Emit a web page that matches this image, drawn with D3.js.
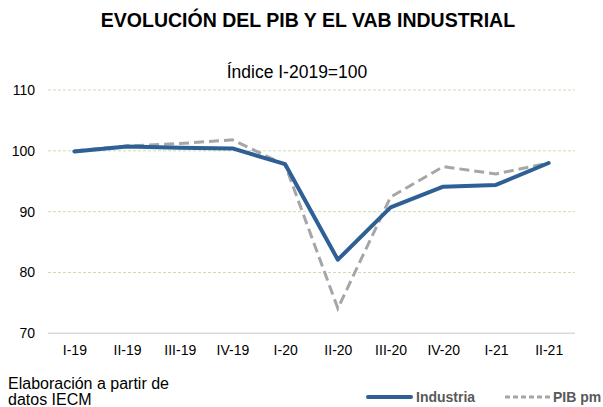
<!DOCTYPE html>
<html lang="es">
<head>
<meta charset="UTF-8">
<title>Evolución del PIB y el VAB industrial</title>
<script src="https://cdn.jsdelivr.net/npm/d3@7"></script>
<style>
  body { margin: 0; background: #fff; }
  svg { display: block; font-family: "Liberation Sans", Arial, sans-serif; }
</style>
</head>
<body>
<div id="chart"></div>
<script>
const quarters = ["I-19", "II-19", "III-19", "IV-19", "I-20", "II-20", "III-20", "IV-20", "I-21", "II-21"];
const industria = [99.9, 100.7, 100.5, 100.4, 97.8, 82.1, 90.7, 94.1, 94.4, 98.0];
const pibPm = [100.0, 100.8, 101.2, 101.8, 97.7, 74.1, 92.4, 97.4, 96.2, 98.0];
const yTicks = [70, 80, 90, 100, 110];

const w = 603;
const h = 407;

const svg = d3.select("#chart")
  .append("svg")
  .attr("width", w)
  .attr("height", h);

const xScale = d3.scalePoint()
  .domain(quarters)
  .range([48, 575])
  .padding(0.5);

const yScale = d3.scaleLinear()
  .domain([70, 110])
  .range([333.3, 90]);

// title + subtitle
svg.append("text")
  .attr("x", 308)
  .attr("y", 27)
  .attr("text-anchor", "middle")
  .attr("font-size", 19.5)
  .attr("font-weight", "bold")
  .text("EVOLUCIÓN DEL PIB Y EL VAB INDUSTRIAL");

svg.append("text")
  .attr("x", 297)
  .attr("y", 78)
  .attr("text-anchor", "middle")
  .attr("font-size", 17.5)
  .text("Índice I-2019=100");

// gridlines
svg.append("g")
  .selectAll("line")
  .data(yTicks.filter(d => d > 70))
  .join("line")
  .attr("x1", 48)
  .attr("x2", 575)
  .attr("y1", d => yScale(d))
  .attr("y2", d => yScale(d))
  .attr("stroke", "#c5e0b4")
  .attr("stroke-width", 1)
  .attr("stroke-dasharray", "3,2");

// y axis labels
const yAxis = d3.axisLeft(yScale)
  .tickValues(yTicks)
  .tickSize(0)
  .tickPadding(13);

svg.append("g")
  .attr("transform", "translate(48,0)")
  .call(yAxis)
  .call(g => g.select(".domain").remove())
  .call(g => g.selectAll("text")
    .attr("font-size", 14)
    .attr("font-family", "'Liberation Sans', Arial, sans-serif")
    .attr("fill", "#000"));

// x axis
const xAxis = d3.axisBottom(xScale)
  .tickSize(0)
  .tickPadding(12);

svg.append("g")
  .attr("transform", `translate(0,${yScale(70)})`)
  .call(xAxis)
  .call(g => g.select(".domain")
    .attr("d", "M48,0H575")
    .attr("stroke", "#d9d9d9")
    .attr("stroke-width", 1.5))
  .call(g => g.selectAll("text")
    .attr("font-size", 14)
    .attr("font-family", "'Liberation Sans', Arial, sans-serif")
    .attr("fill", "#000"));

// series
const line = d3.line()
  .x((d, i) => xScale(quarters[i]))
  .y(d => yScale(d));

svg.append("path")
  .datum(pibPm)
  .attr("d", line)
  .attr("fill", "none")
  .attr("stroke", "#a6a6a6")
  .attr("stroke-width", 3)
  .attr("stroke-dasharray", "10,5");

svg.append("path")
  .datum(industria)
  .attr("d", line)
  .attr("fill", "none")
  .attr("stroke", "#2e6095")
  .attr("stroke-width", 4)
  .attr("stroke-linejoin", "round")
  .attr("stroke-linecap", "round");

// note
const note = svg.append("text")
  .attr("x", 8)
  .attr("y", 389)
  .attr("font-size", 16)
  .attr("fill", "#000");
note.append("tspan").attr("x", 8).text("Elaboración a partir de");
note.append("tspan").attr("x", 8).attr("dy", 16).text("datos IECM");

// legend
const legend = svg.append("g").attr("transform", "translate(0,397)");

legend.append("line")
  .attr("x1", 368).attr("x2", 411)
  .attr("stroke", "#2e6095")
  .attr("stroke-width", 4)
  .attr("stroke-linecap", "round");

legend.append("text")
  .attr("x", 416).attr("y", 5)
  .attr("font-size", 14)
  .attr("font-weight", "bold")
  .attr("fill", "#595959")
  .text("Industria");

legend.append("line")
  .attr("x1", 505).attr("x2", 550)
  .attr("stroke", "#a6a6a6")
  .attr("stroke-width", 3)
  .attr("stroke-dasharray", "5,3");

legend.append("text")
  .attr("x", 553).attr("y", 5)
  .attr("font-size", 14)
  .attr("font-weight", "bold")
  .attr("fill", "#595959")
  .text("PIB pm");
</script>
</body>
</html>
